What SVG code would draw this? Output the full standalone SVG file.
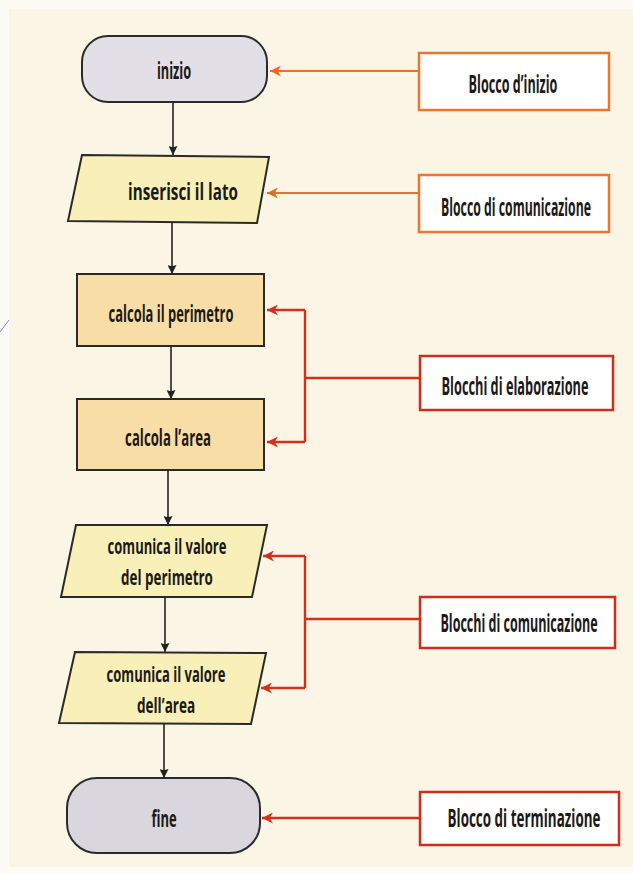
<svg xmlns="http://www.w3.org/2000/svg" width="633" height="873" viewBox="0 0 633 873">
  <defs>
    <style>
      .lbl { font-family: "Open Sans", "Liberation Sans", sans-serif; font-weight: 700; font-size: 24px; fill: #1c1a18; text-anchor: middle; }
      .big { font-size: 25px; }
      .two { font-size: 22px; }
      .flow { stroke: #222; stroke-width: 1.6; fill: none; }
      .orange { stroke: #ea7329; stroke-width: 2.2; fill: none; }
      .red { stroke: #d3301c; stroke-width: 2.4; fill: none; }
      .term { fill: #e2e0e6; stroke: #2a2a2a; stroke-width: 2; }
      .io { fill: #f8f0b8; stroke: #2a2a2a; stroke-width: 2; }
      .proc { fill: #f8dea6; stroke: #2a2a2a; stroke-width: 2; }
      .note-o { fill: #ffffff; stroke: #e8782e; stroke-width: 2.5; }
      .note-r { fill: #ffffff; stroke: #cf2e1c; stroke-width: 2.5; }
    </style>
    <marker id="ah-black" viewBox="0 0 10 10" refX="10" refY="5" markerWidth="14" markerHeight="9" markerUnits="userSpaceOnUse" orient="auto">
      <path d="M0,0 L10,5 L0,10 L1.5,5 z" fill="#222"/>
    </marker>
    <marker id="ah-orange" viewBox="0 0 10 10" refX="10" refY="5" markerWidth="14" markerHeight="11" markerUnits="userSpaceOnUse" orient="auto">
      <path d="M0,0 L10,5 L0,10 L3,5 z" fill="#ea6a22"/>
    </marker>
    <marker id="ah-red" viewBox="0 0 10 10" refX="10" refY="5" markerWidth="14" markerHeight="11" markerUnits="userSpaceOnUse" orient="auto">
      <path d="M0,0 L10,5 L0,10 L3,5 z" fill="#d3301c"/>
    </marker>
  </defs>

  <!-- page -->
  <rect x="0" y="0" width="633" height="873" fill="#fdfbf6"/>
  <rect x="9" y="9" width="624" height="858" fill="#fbf5e6"/>
  <line x1="0" y1="332" x2="9" y2="320" stroke="#6f8fc8" stroke-width="1"/>

  <!-- connectors -->
  <g id="connectors">
    <line class="flow" x1="173" y1="102" x2="173" y2="155" marker-end="url(#ah-black)"/>
    <line class="flow" x1="172" y1="223" x2="172" y2="274" marker-end="url(#ah-black)"/>
    <line class="flow" x1="171" y1="346" x2="171" y2="399" marker-end="url(#ah-black)"/>
    <line class="flow" x1="168" y1="470" x2="168" y2="525" marker-end="url(#ah-black)"/>
    <line class="flow" x1="165" y1="597" x2="165" y2="652" marker-end="url(#ah-black)"/>
    <line class="flow" x1="164" y1="724" x2="164" y2="778" marker-end="url(#ah-black)"/>

    <line class="orange" x1="419" y1="71" x2="270" y2="71" marker-end="url(#ah-orange)"/>
    <line class="orange" x1="419" y1="193" x2="267" y2="193" marker-end="url(#ah-orange)"/>

    <polyline class="red" points="420,378 305,378"/>
    <polyline class="red" points="305,310 305,442"/>
    <line class="red" x1="305" y1="310" x2="267" y2="310" marker-end="url(#ah-red)"/>
    <line class="red" x1="305" y1="442" x2="267" y2="442" marker-end="url(#ah-red)"/>

    <polyline class="red" points="420,619 305,619"/>
    <polyline class="red" points="305,556 305,688"/>
    <line class="red" x1="305" y1="556" x2="263" y2="556" marker-end="url(#ah-red)"/>
    <line class="red" x1="305" y1="688" x2="261" y2="688" marker-end="url(#ah-red)"/>

    <line class="red" x1="420" y1="818" x2="262" y2="818" marker-end="url(#ah-red)"/>
  </g>

  <!-- flowchart blocks (labels set in a narrowed face) -->
  <g id="inizio">
    <rect class="term" x="82" y="36" width="185" height="66" rx="26"/>
    <text class="lbl" transform="translate(174 79) scale(0.6 1)" textLength="57" lengthAdjust="spacingAndGlyphs">inizio</text>
  </g>
  <g id="inserisci">
    <polygon class="io" points="82,155 269,157 257,223 68,221"/>
    <text class="lbl" transform="translate(183 200) scale(0.6 1)" textLength="183" lengthAdjust="spacingAndGlyphs">inserisci il lato</text>
  </g>
  <g id="perimetro">
    <rect class="proc" x="77" y="274" width="187" height="72"/>
    <text class="lbl" transform="translate(171 322) scale(0.6 1)" textLength="208" lengthAdjust="spacingAndGlyphs">calcola il perimetro</text>
  </g>
  <g id="area">
    <rect class="proc" x="77" y="399" width="187" height="71"/>
    <text class="lbl" transform="translate(168 446) scale(0.6 1)" textLength="143" lengthAdjust="spacingAndGlyphs">calcola l’area</text>
  </g>
  <g id="com-perimetro">
    <polygon class="io" points="76,525 267,525 252,597 61,597"/>
    <text class="lbl two" transform="translate(167 554) scale(0.6 1)" textLength="198" lengthAdjust="spacingAndGlyphs">comunica il valore</text>
    <text class="lbl two" transform="translate(167 585) scale(0.6 1)" textLength="153" lengthAdjust="spacingAndGlyphs">del perimetro</text>
  </g>
  <g id="com-area">
    <polygon class="io" points="75,652 266,653 251,724 59,723"/>
    <text class="lbl two" transform="translate(166 682) scale(0.6 1)" textLength="198" lengthAdjust="spacingAndGlyphs">comunica il valore</text>
    <text class="lbl two" transform="translate(166 713) scale(0.6 1)" textLength="97" lengthAdjust="spacingAndGlyphs">dell’area</text>
  </g>
  <g id="fine">
    <rect class="term" x="67" y="778" width="193" height="75" rx="30" style="fill:#d9d6dd"/>
    <text class="lbl" transform="translate(164 827) scale(0.6 1)" textLength="42" lengthAdjust="spacingAndGlyphs">fine</text>
  </g>

  <!-- callout labels -->
  <g id="nota-inizio">
    <rect class="note-o" x="419" y="53" width="190" height="57"/>
    <text class="lbl big" transform="translate(513 93) scale(0.6 1)" textLength="148" lengthAdjust="spacingAndGlyphs">Blocco d’inizio</text>
  </g>
  <g id="nota-comunicazione">
    <rect class="note-o" x="419" y="175" width="190" height="57"/>
    <text class="lbl big" transform="translate(516 216) scale(0.6 1)" textLength="250" lengthAdjust="spacingAndGlyphs">Blocco di comunicazione</text>
  </g>
  <g id="nota-elaborazione">
    <rect class="note-r" x="420" y="356" width="193" height="54"/>
    <text class="lbl big" transform="translate(515 395) scale(0.6 1)" textLength="245" lengthAdjust="spacingAndGlyphs">Blocchi di elaborazione</text>
  </g>
  <g id="nota-comunicazioni">
    <rect class="note-r" x="420" y="597" width="195" height="51"/>
    <text class="lbl big" transform="translate(519 632) scale(0.6 1)" textLength="262" lengthAdjust="spacingAndGlyphs">Blocchi di comunicazione</text>
  </g>
  <g id="nota-terminazione">
    <rect class="note-r" x="420" y="792" width="199" height="53"/>
    <text class="lbl big" transform="translate(524 827) scale(0.6 1)" textLength="255" lengthAdjust="spacingAndGlyphs">Blocco di terminazione</text>
  </g>
</svg>
